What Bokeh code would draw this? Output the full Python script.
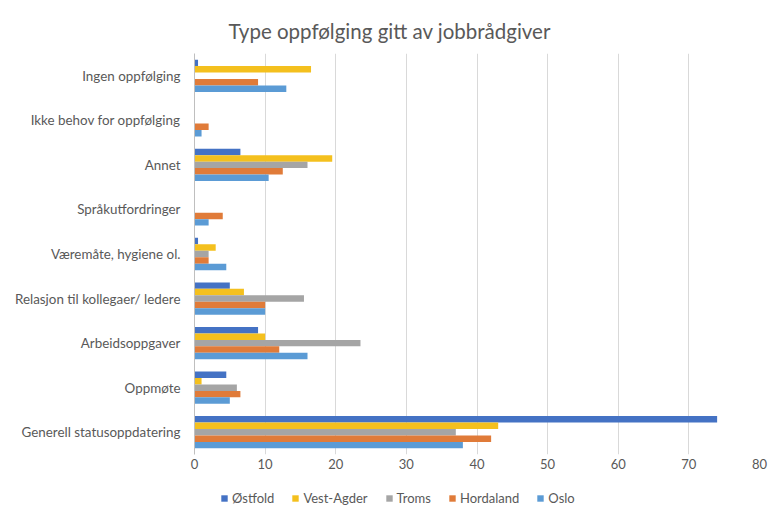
from bokeh.plotting import figure
from bokeh.layouts import column
from bokeh.models import ColumnDataSource, Legend, LegendItem, FactorRange, Range1d, FixedTicker
from bokeh.transform import dodge
from bokeh.embed import file_html
from bokeh.resources import INLINE

categories = ["Ingen oppfølging", "Ikke behov for oppfølging", "Annet", "Språkutfordringer",
              "Væremåte, hygiene ol.", "Relasjon til kollegaer/ ledere", "Arbeidsoppgaver",
              "Oppmøte", "Generell statusoppdatering"]
series_names = ["Østfold", "Vest-Agder", "Troms", "Hordaland", "Oslo"]
ostfold   = [0.5, 0, 6.5, 0, 0.5, 5, 9, 4.5, 74]
vestagder = [16.5, 0, 19.5, 0, 3, 7, 10, 1, 43]
troms     = [0, 0, 16, 0, 2, 15.5, 23.5, 6, 37]
hordaland = [9, 2, 12.5, 4, 2, 10, 12, 6.5, 42]
oslo      = [13, 1, 10.5, 2, 4.5, 10, 16, 5, 38]
colors = ["#4472C4", "#F4C01E", "#A5A5A5", "#E07B39", "#5B9BD5"]
x_ticks = [0, 10, 20, 30, 40, 50, 60, 70, 80]

font = "Lato"
txt = "#595959"
source = ColumnDataSource(dict(cat=categories, s0=ostfold, s1=vestagder, s2=troms, s3=hordaland, s4=oslo))

p = figure(width=770, height=486, output_backend="svg", toolbar_location=None,
           y_range=FactorRange(*reversed(categories)),
           x_range=Range1d(0, 80),
           min_border_left=194, min_border_right=11, min_border_top=53, min_border_bottom=32)

p.title.text = "Type oppfølging gitt av jobbrådgiver"
p.title.align = "left"
p.title.offset = 34
p.title.standoff = 22
p.title.text_font = font
p.title.text_font_size = "20.5px"
p.title.text_font_style = "normal"
p.title.text_color = txt

bar_h = 0.145
offsets = [2 * bar_h, bar_h, 0, -bar_h, -2 * bar_h]
for i, col in enumerate(colors):
    p.hbar(y=dodge("cat", offsets[i], range=p.y_range), right="s%d" % i, left=0,
           height=bar_h, source=source, color=col, line_color=None)

p.xaxis.ticker = FixedTicker(ticks=x_ticks)
p.xaxis.axis_line_color = None
p.xaxis.major_tick_line_color = None
p.xaxis.minor_tick_line_color = None
p.xaxis.major_tick_out = 0
p.xaxis.major_label_standoff = 4
p.xaxis.major_label_text_font = font
p.xaxis.major_label_text_font_size = "13px"
p.xaxis.major_label_text_color = txt

p.yaxis.axis_line_color = "#BFBFBF"
p.yaxis.major_tick_line_color = None
p.yaxis.minor_tick_line_color = None
p.yaxis.major_tick_out = 0
p.yaxis.major_label_text_font = font
p.yaxis.major_label_text_font_size = "13.4px"
p.yaxis.major_label_text_color = txt
p.yaxis.major_label_standoff = 14

p.ygrid.grid_line_color = None
p.xgrid.grid_line_color = "#D9D9D9"
p.outline_line_color = None

# legend strip: zero-thickness copies of the series so that only the legend shows
lg = figure(width=770, height=20, output_backend="svg", toolbar_location=None,
            y_range=FactorRange(*reversed(categories)), x_range=Range1d(0, 80),
            min_border=0, x_axis_type=None, y_axis_type=None)
lg.outline_line_color = None
lg.xgrid.visible = False
lg.ygrid.visible = False
items = []
for i, (name, col) in enumerate(zip(series_names, colors)):
    r = lg.hbar(y=dodge("cat", offsets[i], range=lg.y_range), right="s%d" % i, left=0,
                height=0, source=source, color=col, line_color=None)
    items.append(LegendItem(label=name, renderers=[r]))
legend = Legend(items=items, orientation="horizontal", location=(26, 0),
                glyph_width=8, glyph_height=8, label_text_font=font,
                label_text_font_size="13px", label_text_color=txt,
                border_line_color=None, background_fill_alpha=0,
                spacing=17, padding=0, margin=0, label_standoff=4)
lg.add_layout(legend, "center")

layout = column(p, lg, spacing=0)
open("out.html", "w").write(file_html(layout, INLINE))
